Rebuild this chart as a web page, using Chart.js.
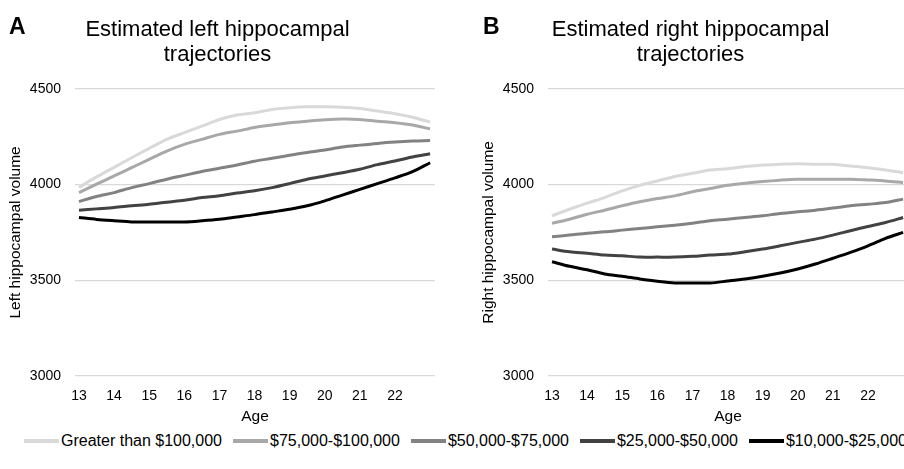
<!DOCTYPE html>
<html>
<head>
<meta charset="utf-8">
<script src="https://cdn.jsdelivr.net/npm/chart.js@4.4.1/dist/chart.umd.min.js"></script>
<style>
    html, body { margin: 0; padding: 0; background: #fff; }
    body { width: 904px; height: 469px; overflow: hidden; position: relative; font-family: "Liberation Sans", Arial, sans-serif; color: #000; }
    .panel { position: absolute; top: 0; width: 440px; height: 430px; }
    .panel canvas { display: block; }
    .tag { position: absolute; top: 15px; font-size: 23px; font-weight: bold; line-height: 1; }
    #legend { position: absolute; left: 24px; top: 431px; display: flex; gap: 11px; white-space: nowrap; font-size: 16px; line-height: 20px; }
    .legend-item { display: flex; align-items: center; }
    .legend-swatch { width: 35px; height: 4px; margin-right: 2px; }
</style>
</head>
<body>
<div class="panel" style="left:0"><canvas id="leftChart" width="440" height="430"></canvas></div>
<div class="panel" style="left:473px"><canvas id="rightChart" width="440" height="430"></canvas></div>
<div class="tag" style="left:9px">A</div>
<div class="tag" style="left:483px">B</div>
<div id="legend"></div>

<script>
// --- data (age in years, volume in mm3) ---
const ages = [13, 13.5, 14, 14.5, 15, 15.5, 16, 16.5, 17, 17.5, 18, 18.5, 19, 19.5, 20, 20.5, 21, 21.5, 22, 22.5, 23];
const ageTicks = [13, 14, 15, 16, 17, 18, 19, 20, 21, 22];
const volumeTicks = [3000, 3500, 4000, 4500];
const incomeGroups = ['Greater than $100,000', '$75,000-$100,000', '$50,000-$75,000', '$25,000-$50,000', '$10,000-$25,000'];

const leftOver100k  = [3985, 4040, 4090, 4140, 4189, 4236, 4271, 4305, 4340, 4363, 4375, 4392, 4401, 4406, 4406, 4404, 4397, 4384, 4370, 4352, 4326];
const left75to100k  = [3958, 4002, 4045, 4088, 4132, 4175, 4210, 4236, 4262, 4279, 4298, 4311, 4323, 4331, 4338, 4342, 4340, 4331, 4323, 4311, 4291];
const left50to75k   = [3911, 3938, 3958, 3984, 4005, 4028, 4048, 4068, 4085, 4102, 4122, 4137, 4153, 4167, 4180, 4196, 4206, 4215, 4222, 4227, 4230];
const left25to50k   = [3866, 3873, 3880, 3889, 3897, 3908, 3918, 3932, 3941, 3956, 3968, 3984, 4005, 4028, 4045, 4062, 4080, 4104, 4123, 4144, 4161];
const left10to25k   = [3828, 3818, 3811, 3805, 3805, 3805, 3805, 3811, 3819, 3831, 3843, 3857, 3871, 3889, 3915, 3945, 3975, 4005, 4035, 4068, 4114];

const rightOver100k = [3837, 3871, 3903, 3932, 3967, 3996, 4019, 4042, 4059, 4076, 4083, 4094, 4102, 4106, 4109, 4106, 4106, 4097, 4088, 4076, 4062];
const right75to100k = [3798, 3819, 3845, 3866, 3889, 3910, 3927, 3941, 3962, 3979, 3996, 4007, 4016, 4023, 4028, 4028, 4028, 4028, 4024, 4019, 4010];
const right50to75k  = [3727, 3736, 3746, 3753, 3762, 3771, 3779, 3788, 3798, 3811, 3819, 3828, 3837, 3849, 3858, 3866, 3877, 3889, 3897, 3906, 3924];
const right25to50k  = [3663, 3649, 3641, 3632, 3628, 3621, 3621, 3621, 3625, 3632, 3637, 3649, 3663, 3680, 3698, 3715, 3736, 3759, 3781, 3802, 3828];
const right10to25k  = [3597, 3573, 3555, 3533, 3521, 3507, 3495, 3486, 3486, 3486, 3496, 3507, 3521, 3538, 3559, 3585, 3615, 3646, 3680, 3719, 3750];

// greyscale, lightest = highest income
const GROUP_COLORS = ['#d9d9d9', '#a8a8a8', '#828282', '#424242', '#000000'];
const FONT = '"Liberation Sans", Arial, sans-serif';

const TrajectoryChart = {
    /**
     * Draw one panel of trajectories.
     * @param {HTMLCanvasElement} canvas
     * @param {Array} titleLines
     * @param {string} yTitle
     * @param {Array} series - one value array per income group
     */
    render(canvas, titleLines, yTitle, series) {
        const datasets = series.map((values, i) => ({
            label: incomeGroups[i],
            data: ages.map((a, j) => ({ x: a, y: values[j] })),
            borderColor: GROUP_COLORS[i],
            borderWidth: 3,
            pointRadius: 0,
            tension: 0.3,
            fill: false
        }));

        return new Chart(canvas.getContext('2d'), {
            type: 'line',
            data: { datasets: datasets },
            options: {
                responsive: false,
                animation: false,
                layout: { padding: { left: 0, right: 5, top: 0, bottom: 0 } },
                plugins: {
                    legend: { display: false },
                    tooltip: { enabled: false },
                    title: {
                        display: true,
                        text: titleLines,
                        color: '#000',
                        font: { family: FONT, size: 22, weight: 'normal', lineHeight: 1.11 },
                        padding: { top: 18, bottom: 22 }
                    }
                },
                scales: {
                    x: {
                        type: 'linear',
                        min: 12.886,
                        max: 23.14,
                        afterBuildTicks: axis => { axis.ticks = ageTicks.map(v => ({ value: v })); },
                        afterFit: axis => { axis.height = 54; },
                        grid: { display: false },
                        border: { display: false },
                        ticks: { color: '#000', font: { family: FONT, size: 14 }, padding: 4, maxRotation: 0, autoSkip: false },
                        title: { display: true, text: 'Age', color: '#000', font: { family: FONT, size: 15.5 }, padding: { top: 0, bottom: 4 } }
                    },
                    y: {
                        min: 3000,
                        max: 4500,
                        afterBuildTicks: axis => { axis.ticks = volumeTicks.map(v => ({ value: v })); },
                        afterFit: axis => { axis.width = 75; },
                        grid: { color: '#d9d9d9', lineWidth: 1.3, drawTicks: false },
                        border: { display: false },
                        ticks: { color: '#000', font: { family: FONT, size: 14 }, padding: 14, callback: v => String(v) },
                        title: { display: true, text: yTitle, color: '#000', font: { family: FONT, size: 15.5 }, padding: { top: 6, bottom: 0 } }
                    }
                }
            }
        });
    }
};

TrajectoryChart.render(document.getElementById('leftChart'),
    ['Estimated left hippocampal', 'trajectories'], 'Left hippocampal volume',
    [leftOver100k, left75to100k, left50to75k, left25to50k, left10to25k]);

TrajectoryChart.render(document.getElementById('rightChart'),
    ['Estimated right hippocampal', 'trajectories'], 'Right hippocampal volume',
    [rightOver100k, right75to100k, right50to75k, right25to50k, right10to25k]);

// shared legend under both panels
const legend = document.getElementById('legend');
incomeGroups.forEach((name, i) => {
    const item = document.createElement('div');
    item.className = 'legend-item';
    item.innerHTML = `<span class="legend-swatch" style="background:${GROUP_COLORS[i]}"></span><span>${name}</span>`;
    legend.appendChild(item);
});
</script>
</body>
</html>
